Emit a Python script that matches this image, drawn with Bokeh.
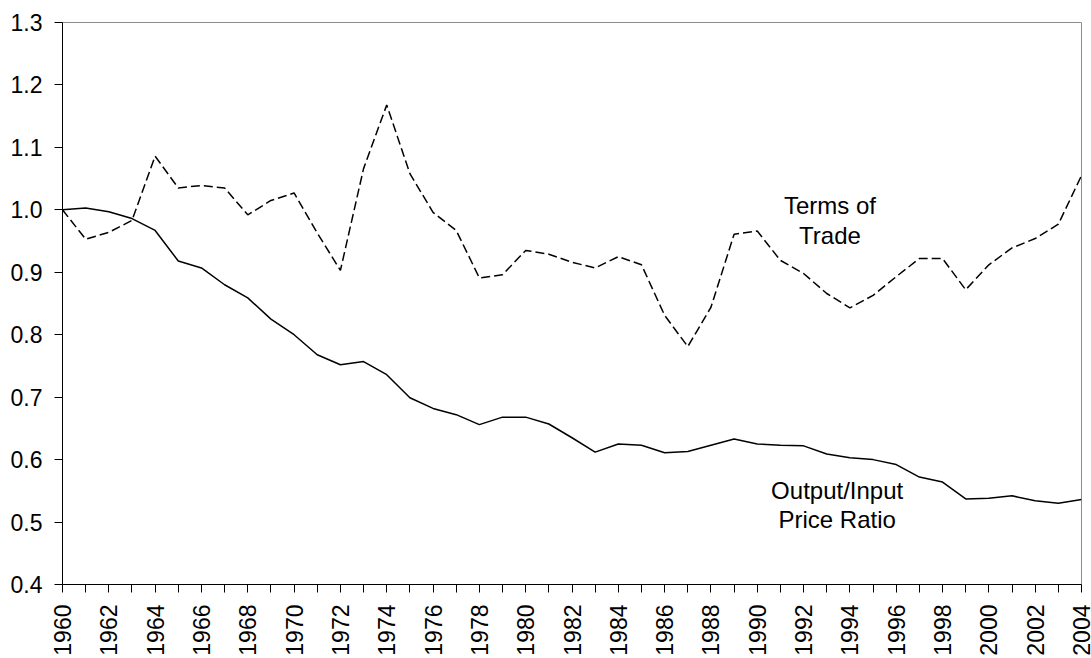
import math
from bokeh.plotting import figure
from bokeh.models import FixedTicker, NumeralTickFormatter, Range1d, ColumnDataSource
from bokeh.core.properties import value
from bokeh.embed import file_html
from bokeh.resources import INLINE

years = [1960, 1961, 1962, 1963, 1964, 1965, 1966, 1967, 1968, 1969,
         1970, 1971, 1972, 1973, 1974, 1975, 1976, 1977, 1978, 1979,
         1980, 1981, 1982, 1983, 1984, 1985, 1986, 1987, 1988, 1989,
         1990, 1991, 1992, 1993, 1994, 1995, 1996, 1997, 1998, 1999,
         2000, 2001, 2002, 2003, 2004]

terms_of_trade = [1.000, 0.953, 0.964, 0.983, 1.086, 1.035, 1.039, 1.035, 0.992, 1.015,
                  1.027, 0.963, 0.903, 1.066, 1.168, 1.058, 0.996, 0.967, 0.891, 0.896,
                  0.935, 0.929, 0.916, 0.907, 0.925, 0.912, 0.831, 0.781, 0.844, 0.961,
                  0.966, 0.919, 0.898, 0.866, 0.843, 0.863, 0.893, 0.922, 0.922, 0.872,
                  0.912, 0.939, 0.954, 0.977, 1.055]

output_input_ratio = [1.000, 1.003, 0.997, 0.986, 0.967, 0.918, 0.907, 0.880, 0.859, 0.825,
                      0.800, 0.768, 0.752, 0.757, 0.736, 0.699, 0.682, 0.672, 0.656, 0.668,
                      0.668, 0.657, 0.635, 0.612, 0.625, 0.623, 0.611, 0.613, 0.623, 0.633,
                      0.625, 0.623, 0.622, 0.609, 0.603, 0.600, 0.592, 0.572, 0.564, 0.537,
                      0.538, 0.542, 0.534, 0.530, 0.536]

x_tick_labels = [1960, 1962, 1964, 1966, 1968, 1970, 1972, 1974, 1976, 1978, 1980,
                 1982, 1984, 1986, 1988, 1990, 1992, 1994, 1996, 1998, 2000, 2002, 2004]
x_minor_ticks = [1961, 1963, 1965, 1967, 1969, 1971, 1973, 1975, 1977, 1979, 1981,
                 1983, 1985, 1987, 1989, 1991, 1993, 1995, 1997, 1999, 2001, 2003]
y_tick_labels = [0.4, 0.5, 0.6, 0.7, 0.8, 0.9, 1.0, 1.1, 1.2, 1.3]

annot_lines = ["Terms of", "Trade", "Output/Input", "Price Ratio"]
annot_x = [1993.14, 1993.14, 1993.45, 1993.45]
annot_y = [1.007, 0.9595, 0.5502, 0.5035]

FONT = "Liberation Sans"

p = figure(width=1091, height=658, output_backend="svg", toolbar_location=None,
           x_range=Range1d(1960, 2004), y_range=Range1d(0.4, 1.3),
           min_border_left=62, min_border_right=10, min_border_top=22, min_border_bottom=74)

p.background_fill_color = "white"
p.border_fill_color = "white"
p.outline_line_color = "#8c8c8c"
p.outline_line_width = 1
p.xgrid.visible = False
p.ygrid.visible = False

src = ColumnDataSource(dict(year=years, tot=terms_of_trade, oi=output_input_ratio))
p.line("year", "tot", source=src, line_color="black", line_width=1.5, line_dash="9 4")
p.line("year", "oi", source=src, line_color="black", line_width=1.5)

p.text(x=annot_x, y=annot_y, text=annot_lines, text_align="center", text_baseline="alphabetic",
       text_font=value(FONT), text_font_size="24px", text_color="black")

# X axis
xa = p.xaxis[0]
xa.ticker = FixedTicker(ticks=x_tick_labels, minor_ticks=x_minor_ticks)
xa.major_label_orientation = math.pi / 2
xa.major_label_text_font = FONT
xa.major_label_text_font_size = "23px"
xa.major_label_text_color = "black"
xa.major_label_standoff = 12
xa.major_tick_in = 0
xa.major_tick_out = 8
xa.minor_tick_in = 0
xa.minor_tick_out = 8
xa.axis_line_color = "black"
xa.major_tick_line_color = "black"
xa.minor_tick_line_color = "black"

# Y axis
ya = p.yaxis[0]
ya.ticker = FixedTicker(ticks=y_tick_labels)
ya.formatter = NumeralTickFormatter(format="0.0")
ya.major_label_text_font = FONT
ya.major_label_text_font_size = "23px"
ya.major_label_text_color = "black"
ya.major_label_standoff = 12
ya.major_tick_in = 0
ya.major_tick_out = 8
ya.minor_tick_line_color = None
ya.axis_line_color = "black"
ya.major_tick_line_color = "black"

open("out.html", "w").write(file_html(p, INLINE))
